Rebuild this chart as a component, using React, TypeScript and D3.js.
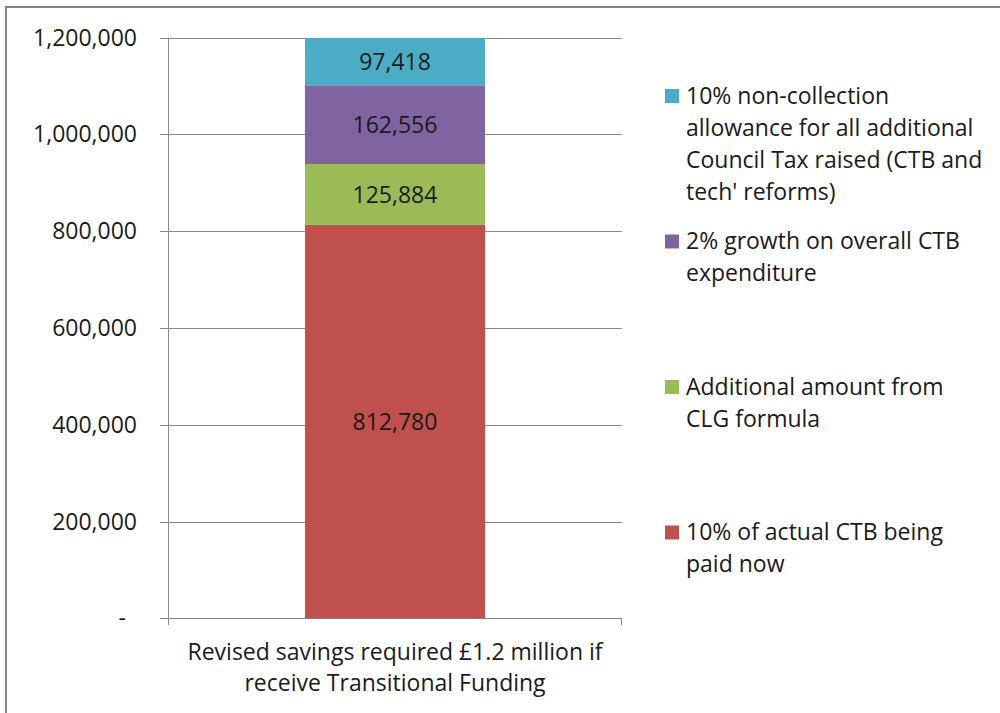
import React from "react";
import * as d3 from "d3";

const categories = ["Revised savings required £1.2 million if\nreceive Transitional Funding"];
const seriesKeys = ["paidNow", "clg", "growth", "nonCollection"];
const seriesNames = [
  "10% of actual CTB being\npaid now",
  "Additional amount from\nCLG formula",
  "2% growth on overall CTB\nexpenditure",
  "10% non-collection\nallowance for all additional\nCouncil Tax raised (CTB and\ntech' reforms)",
];
const seriesColors = ["#C0504D", "#9BBB59", "#8064A2", "#4BACC6"];
const paidNow = [812780];
const clg = [125884];
const growth = [162556];
const nonCollection = [97418];
const yTicks = [0, 200000, 400000, 600000, 800000, 1000000, 1200000];

const W = 1000;
const H = 713;
const FONT = "'Open Sans', Lato, sans-serif";
const FS = 23;
const TEXT = "#1a1a1a";
const GRID = "#8a8a8a";

export default function App() {
  React.useEffect(() => {
    document.body.style.margin = "0";
  }, []);

  const rows = categories.map((c, i) => ({
    cat: c,
    paidNow: paidNow[i],
    clg: clg[i],
    growth: growth[i],
    nonCollection: nonCollection[i],
  }));
  const stacked = d3.stack<any>().keys(seriesKeys)(rows);

  const left = 168;
  const right = 622;
  const y = d3.scaleLinear().domain([0, 1200000]).range([618.3, 37.5]);
  const x = d3.scaleBand().domain(categories).range([left, right]).padding(0.432);
  const fmt = d3.format(",");

  const legendOrder = [3, 2, 1, 0];

  return (
    <svg width={W} height={H} style={{ position: "absolute", left: 0, top: 0, background: "#fff" }}
      fontFamily={FONT}>
      <rect x={0} y={0} width={W} height={H} fill="#fff" />
      <rect x={6} y={7} width={W + 20} height={H + 20} fill="none" stroke="#858585" strokeWidth={2} />

      {/* gridlines + y ticks */}
      {yTicks.map((t) => (
        <g key={t}>
          <line x1={160} x2={right} y1={Math.round(y(t)) + 0.5} y2={Math.round(y(t)) + 0.5}
            stroke={GRID} strokeWidth={1} />
          <text x={t === 0 ? 126 : 137} y={y(t)} dy="0.35em" textAnchor="end" fontSize={FS} fill={TEXT}>
            {t === 0 ? "-" : fmt(t)}
          </text>
        </g>
      ))}
      {/* y axis */}
      <line x1={left + 0.5} x2={left + 0.5} y1={y(1200000)} y2={625} stroke={GRID} strokeWidth={1} />
      <line x1={right - 0.5} x2={right - 0.5} y1={y(0)} y2={625} stroke={GRID} strokeWidth={1} />

      {/* bars */}
      {stacked.map((s, si) =>
        s.map((d, di) => {
          const x0 = x(categories[di])!;
          const y0 = y(d[1]);
          const y1 = y(d[0]);
          return (
            <g key={`${si}-${di}`}>
              <rect x={x0} y={y0} width={x.bandwidth()} height={y1 - y0} fill={seriesColors[si]} />
              <text x={x0 + x.bandwidth() / 2} y={(y0 + y1) / 2} dy="0.35em" textAnchor="middle"
                fontSize={FS} fill={TEXT}>
                {fmt(d[1] - d[0])}
              </text>
            </g>
          );
        })
      )}

      {/* category label */}
      {categories.map((c) => (
        <text key={c} x={x(c)! + x.bandwidth() / 2} y={660} textAnchor="middle" fontSize={FS} fill={TEXT}>
          {c.split("\n").map((ln, i) => (
            <tspan key={i} x={x(c)! + x.bandwidth() / 2} dy={i === 0 ? 0 : 31}>{ln}</tspan>
          ))}
        </text>
      ))}

      {/* legend */}
      {legendOrder.map((si, li) => {
        const by = 103.5 + li * 145.5;
        return (
          <g key={si}>
            <rect x={665} y={by - 14.5} width={14} height={14} fill={seriesColors[si]} />
            <text x={686} y={by} fontSize={FS} fill={TEXT}>
              {seriesNames[si].split("\n").map((ln, i) => (
                <tspan key={i} x={686} dy={i === 0 ? 0 : 32}>{ln}</tspan>
              ))}
            </text>
          </g>
        );
      })}
    </svg>
  );
}
